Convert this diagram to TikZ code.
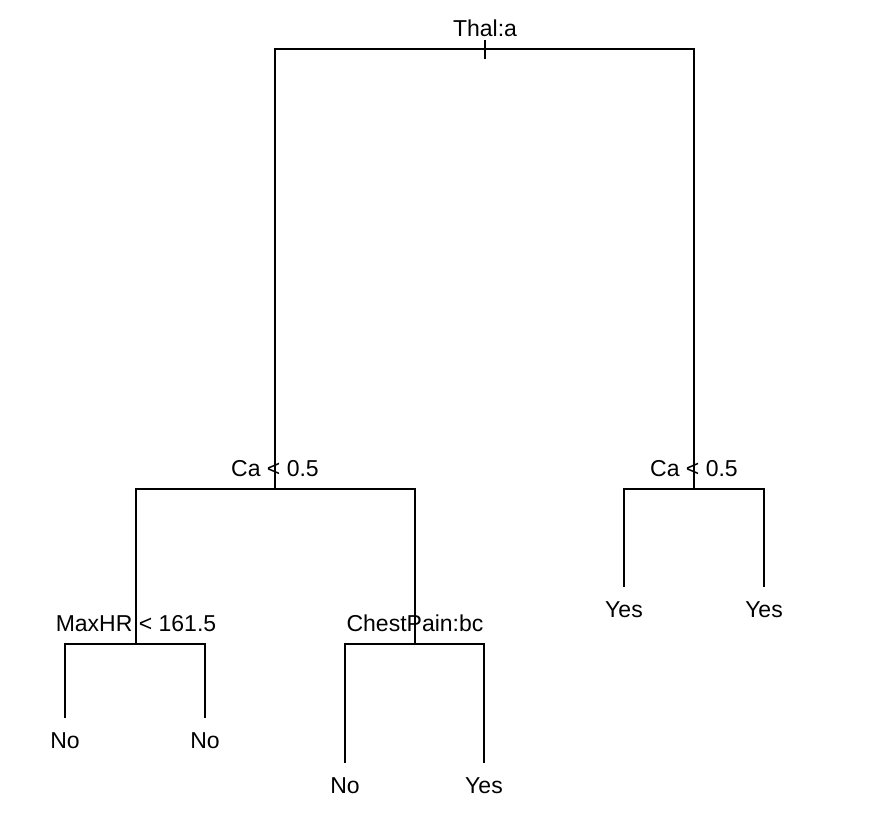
\documentclass[tikz,border=0pt]{standalone}
\usepackage{fontspec}
\setmainfont{Liberation Sans}
\usetikzlibrary{positioning}

\begin{document}
\begin{tikzpicture}[
    x=1pt, y=-1pt,
    branch/.style={line width=2.6pt, black},
    lbl/.style={anchor=base, inner sep=0pt, font=\fontsize{23}{27}\selectfont},
    splitlbl/.style={lbl, yshift=13pt},
    leaflbl/.style={lbl, yshift=-30pt}
]
\useasboundingbox (0,0) rectangle (875,822);

% Split points
\coordinate (root) at (485,49);
\coordinate (caL)  at (275,489);
\coordinate (caR)  at (694,489);
\coordinate (hrL)  at (136,644);
\coordinate (cpL)  at (415,644);

% Leaf ends
\coordinate (lf1) at (65,718);
\coordinate (lf2) at (205,718);
\coordinate (lf3) at (345,763);
\coordinate (lf4) at (484,763);
\coordinate (lf5) at (624,587);
\coordinate (lf6) at (764,587);

% Split labels
\node[splitlbl] (thal)  at (root) {Thal:a};
\node[splitlbl] (caLt)  at (caL)  {Ca < 0.5};
\node[splitlbl] (caRt)  at (caR)  {Ca < 0.5};
\node[splitlbl] (hrLt)  at (hrL)  {MaxHR < 161.5};
\node[splitlbl] (cpLt)  at (cpL)  {ChestPain:bc};

% Leaf labels
\node[leaflbl] (n1) at (lf1) {No};
\node[leaflbl] (n2) at (lf2) {No};
\node[leaflbl] (n3) at (lf3) {No};
\node[leaflbl] (n4) at (lf4) {Yes};
\node[leaflbl] (n5) at (lf5) {Yes};
\node[leaflbl] (n6) at (lf6) {Yes};

% Branches
\draw[branch] (caL) |- (root) -| (caR);
\draw[branch] (hrL) |- (caL) -| (cpL);
\draw[branch] (lf5) |- (caR) -| (lf6);
\draw[branch] (lf1) |- (hrL) -| (lf2);
\draw[branch] (lf3) |- (cpL) -| (lf4);

% Root tick
\draw[line width=1.2pt] ([yshift=9pt]root) -- ([yshift=-10pt]root);

\end{tikzpicture}
\end{document}
